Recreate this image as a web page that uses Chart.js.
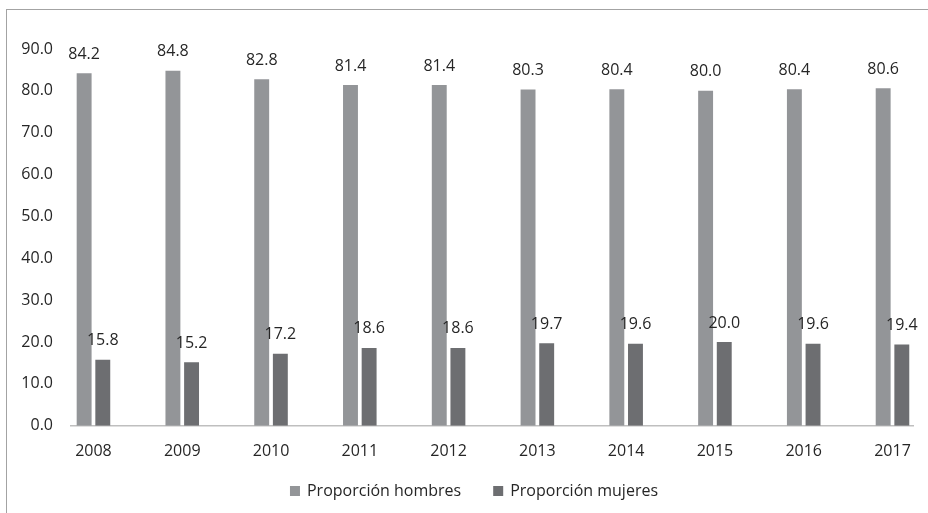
<!DOCTYPE html>
<html>
<head>
<meta charset="utf-8">
<script src="https://cdn.jsdelivr.net/npm/chart.js@4"></script>
<style>
  html, body { margin: 0; padding: 0; background: #fff; overflow: hidden; }
  #marco { position: absolute; left: 6px; top: 9px; width: 940px; height: 520px; border: 1px solid #a3a3a3; }
  #caja { position: absolute; left: 0; top: 0; width: 928px; height: 513px; }
</style>
</head>
<body>
<div id="marco"></div>
<div id="caja"><canvas id="grafico"></canvas></div>
<script>
var anios = ['2008', '2009', '2010', '2011', '2012', '2013', '2014', '2015', '2016', '2017'];
var hombres = [84.2, 84.8, 82.8, 81.4, 81.4, 80.3, 80.4, 80.0, 80.4, 80.6];
var mujeres = [15.8, 15.2, 17.2, 18.6, 18.6, 19.7, 19.6, 20.0, 19.6, 19.4];
var ticksY = [0, 10, 20, 30, 40, 50, 60, 70, 80, 90];

var fuente = "'Open Sans', sans-serif";
var colorTexto = '#262626';

function puntos(valores) {
    var res = [];
    for (var i = 0; i < valores.length; i++) {
        res.push({ x: i, y: valores[i] });
    }
    return res;
}

// etiquetas con el valor encima de cada barra
var etiquetas = {
    id: 'etiquetas',
    afterDatasetsDraw: function(chart) {
        var ctx = chart.ctx;
        ctx.save();
        ctx.font = '16px ' + fuente;
        ctx.fillStyle = colorTexto;
        ctx.textAlign = 'center';
        ctx.textBaseline = 'middle';
        chart.data.datasets.forEach(function(ds, d) {
            chart.getDatasetMeta(d).data.forEach(function(bar, i) {
                ctx.fillText(ds.data[i].y.toFixed(1), bar.x, bar.y - 19);
            });
        });
        ctx.restore();
    }
};

// leyenda abajo, con más separación entre series que la de Chart.js
var leyenda = {
    id: 'leyenda',
    afterDraw: function(chart) {
        var ctx = chart.ctx;
        var sets = chart.data.datasets;
        var caja = 10, aTexto = 17, hueco = 32, y = 491;
        ctx.save();
        ctx.font = '16px ' + fuente;
        ctx.textBaseline = 'middle';
        var total = 0;
        sets.forEach(function(ds, i) {
            total += aTexto + ctx.measureText(ds.label).width + (i > 0 ? hueco : 0);
        });
        var x = 474 - total / 2;
        sets.forEach(function(ds) {
            ctx.fillStyle = ds.backgroundColor;
            ctx.fillRect(x, y - caja / 2, caja, caja);
            ctx.fillStyle = colorTexto;
            ctx.fillText(ds.label, x + aTexto, y);
            x += aTexto + ctx.measureText(ds.label).width + hueco;
        });
        ctx.restore();
    }
};

var ctx = document.getElementById('grafico').getContext('2d');
var grafico = new Chart(ctx, {
    type: 'bar',
    data: {
        datasets: [{
            label: 'Proporción hombres',
            data: puntos(hombres),
            backgroundColor: '#939598',
            categoryPercentage: 0.42,
            barPercentage: 0.8
        }, {
            label: 'Proporción mujeres',
            data: puntos(mujeres),
            backgroundColor: '#6d6e71',
            categoryPercentage: 0.42,
            barPercentage: 0.8
        }]
    },
    options: {
        responsive: true,
        maintainAspectRatio: false,
        animation: false,
        layout: { padding: { top: 49, right: 15, bottom: 36, left: 15 } },
        plugins: {
            tooltip: { enabled: false },
            legend: { display: false }
        },
        scales: {
            x: {
                type: 'linear',
                offset: false,
                min: -0.253,
                max: 9.231,
                grid: { display: false, drawTicks: false, offset: false },
                border: { display: true, color: '#bfbfbf', width: 1.5 },
                ticks: {
                    stepSize: 1,
                    includeBounds: false,
                    autoSkip: false,
                    maxRotation: 0,
                    padding: 16,
                    color: colorTexto,
                    font: { family: fuente, size: 16 },
                    callback: function(v) { return anios[v]; }
                }
            },
            y: {
                min: 0,
                max: 90,
                afterFit: function(scale) { scale.width = 56; },
                afterBuildTicks: function(scale) {
                    scale.ticks = ticksY.map(function(v) { return { value: v }; });
                },
                grid: { display: false, drawTicks: false },
                border: { display: false },
                ticks: {
                    padding: 18,
                    color: colorTexto,
                    font: { family: fuente, size: 16 },
                    callback: function(v) { return v.toFixed(1); }
                }
            }
        }
    },
    plugins: [etiquetas, leyenda]
});
</script>
</body>
</html>
